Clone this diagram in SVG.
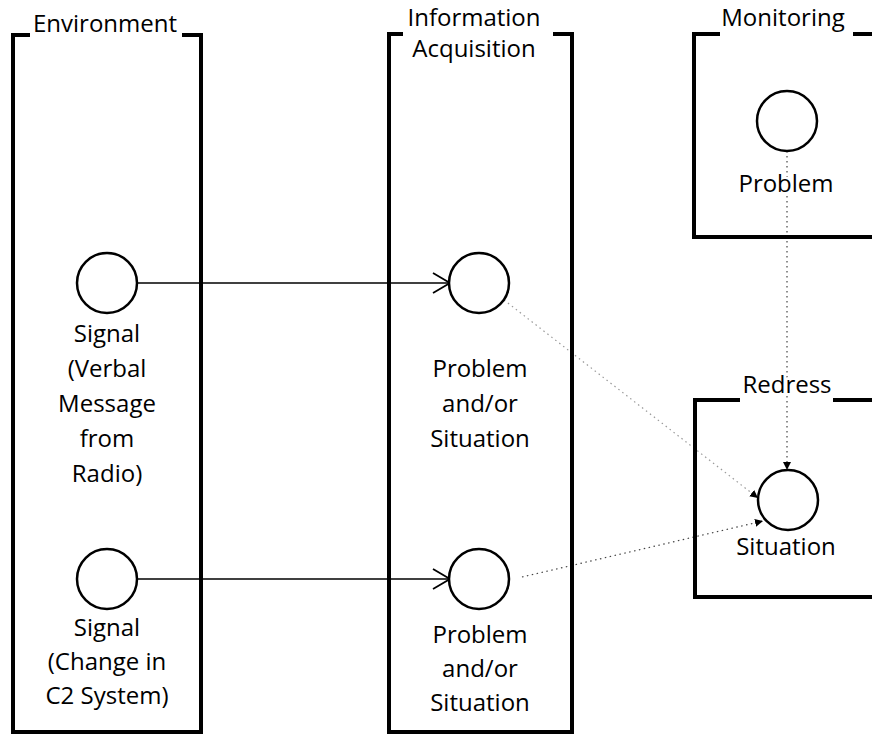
<svg xmlns="http://www.w3.org/2000/svg" width="872" height="735" viewBox="0 0 872 735">
  <style>
    .frame { fill: none; stroke: #000; stroke-width: 4; stroke-linejoin: miter; }
    .node { fill: #fff; stroke: #000; stroke-width: 2.5; }
    .lbl { font-family: "Open Sans", "Noto Sans", sans-serif; font-size: 24px; fill: #000; text-anchor: middle;
           paint-order: stroke; stroke: #fff; stroke-width: 5; stroke-linejoin: round; }
    .flow { fill: none; stroke: #000; stroke-width: 1.6; }
    .trace { fill: none; stroke: #444; stroke-width: 1.2; stroke-dasharray: 1.5 3.5; }
    .faint { stroke: #999; }
  </style>
  <defs>
    <marker id="open" markerUnits="userSpaceOnUse" markerWidth="20" markerHeight="24" refX="18" refY="11" orient="auto">
      <path d="M 1 1 L 18 11 L 1 21" fill="none" stroke="#000" stroke-width="1.8"/>
    </marker>
    <marker id="dot" markerUnits="userSpaceOnUse" markerWidth="10" markerHeight="10" refX="8" refY="4" orient="auto">
      <path d="M 0 0 L 8 4 L 0 8 z" fill="#000"/>
    </marker>
  </defs>

  <!-- connectors -->
  <g id="connectors">
    <path class="flow" d="M 137 283 H 450" marker-end="url(#open)"/>
    <path class="flow" d="M 137 579 H 450" marker-end="url(#open)"/>
    <path class="trace" d="M 787 151 V 470" marker-end="url(#dot)"/>
    <path class="trace faint" d="M 504 300 L 758 498" marker-end="url(#dot)"/>
    <path class="trace" d="M 522 577 L 763 521" marker-end="url(#dot)"/>
  </g>

  <!-- swimlane: Environment -->
  <g id="environment">
    <path class="frame" d="M 30 35 H 13 V 732 H 201 V 35 H 182"/>
    <text class="lbl" x="105" y="32">Environment</text>
    <g id="env-signal-radio">
      <circle class="node" cx="107" cy="283" r="30"/>
      <text class="lbl" x="107" y="342">Signal</text>
      <text class="lbl" x="107" y="377">(Verbal</text>
      <text class="lbl" x="107" y="412">Message</text>
      <text class="lbl" x="107" y="447">from</text>
      <text class="lbl" x="107" y="482">Radio)</text>
    </g>
    <g id="env-signal-c2">
      <circle class="node" cx="107" cy="579" r="30"/>
      <text class="lbl" x="107" y="636">Signal</text>
      <text class="lbl" x="107" y="670">(Change in</text>
      <text class="lbl" x="107" y="704">C2 System)</text>
    </g>
  </g>

  <!-- swimlane: Information Acquisition -->
  <g id="information-acquisition">
    <path class="frame" d="M 403 34 H 389 V 732 H 572 V 34 H 553"/>
    <text class="lbl" x="474" y="26">Information</text>
    <text class="lbl" x="474" y="57">Acquisition</text>
    <g id="ia-problem-1">
      <circle class="node" cx="479" cy="283" r="30"/>
      <text class="lbl" x="480" y="377">Problem</text>
      <text class="lbl" x="480" y="412">and/or</text>
      <text class="lbl" x="480" y="447">Situation</text>
    </g>
    <g id="ia-problem-2">
      <circle class="node" cx="479" cy="579" r="30"/>
      <text class="lbl" x="480" y="643">Problem</text>
      <text class="lbl" x="480" y="677">and/or</text>
      <text class="lbl" x="480" y="711">Situation</text>
    </g>
  </g>

  <!-- swimlane: Monitoring -->
  <g id="monitoring">
    <path class="frame" d="M 720 34 H 694 V 237 H 880 M 853 34 H 880"/>
    <text class="lbl" x="783" y="26">Monitoring</text>
    <g id="mon-problem">
      <circle class="node" cx="787" cy="121" r="30"/>
      <text class="lbl" x="786" y="192">Problem</text>
    </g>
  </g>

  <!-- swimlane: Redress -->
  <g id="redress">
    <path class="frame" d="M 740 400 H 695 V 597 H 880 M 833 400 H 880"/>
    <text class="lbl" x="787" y="393">Redress</text>
    <g id="red-situation">
      <circle class="node" cx="788" cy="500" r="30"/>
      <text class="lbl" x="786" y="555">Situation</text>
    </g>
  </g>
</svg>
